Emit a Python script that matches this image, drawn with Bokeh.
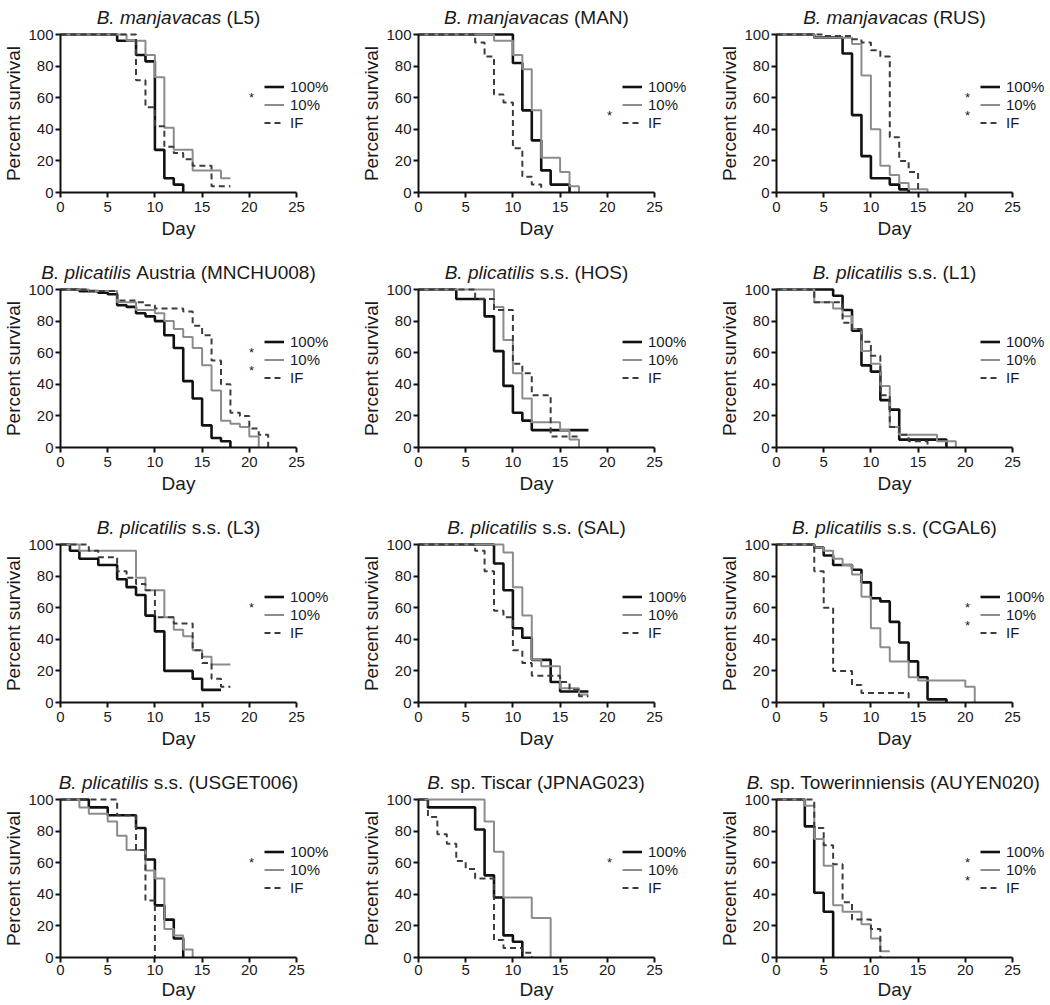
from bokeh.plotting import figure
from bokeh.layouts import gridplot
from bokeh.models import Legend, LegendItem, Label, FixedTicker, Range1d
from bokeh.embed import file_html
from bokeh.resources import INLINE

# ---------------- data ----------------
x_ticks = [0, 5, 10, 15, 20, 25]
y_ticks = [0, 20, 40, 60, 80, 100]
series_labels = ["100%", "10%", "IF"]

title_italic = ["B. manjavacas", "B. manjavacas", "B. manjavacas",
                "B. plicatilis", "B. plicatilis", "B. plicatilis",
                "B. plicatilis", "B. plicatilis", "B. plicatilis",
                "B. plicatilis", "B.", "B."]
title_roman = ["(L5)", "(MAN)", "(RUS)",
               "Austria (MNCHU008)", "s.s. (HOS)", "s.s. (L1)",
               "s.s. (L3)", "s.s. (SAL)", "s.s. (CGAL6)",
               "s.s. (USGET006)", "sp. Tiscar (JPNAG023)", "sp. Towerinniensis (AUYEN020)"]
# significance asterisks for [100%, 10%, IF]
stars = [[0, 1, 0], [0, 0, 1], [0, 1, 1],
         [0, 1, 1], [0, 0, 0], [0, 0, 0],
         [0, 1, 0], [0, 0, 0], [0, 1, 1],
         [0, 1, 0], [0, 1, 0], [0, 1, 1]]

L5_day_100 = [0, 6, 8, 9, 10, 11, 12, 13]
L5_surv_100 = [100, 96, 87, 83, 27, 9, 5, 0]
L5_day_10 = [0, 7, 9, 10, 11, 12, 14, 17, 18]
L5_surv_10 = [100, 96, 87, 73, 41, 27, 14, 9, 9]
L5_day_IF = [0, 8, 9, 10, 11, 12, 13, 14, 16, 18]
L5_surv_IF = [100, 71, 54, 42, 29, 25, 21, 17, 4, 4]

MAN_day_100 = [0, 10, 11, 12, 13, 14, 16]
MAN_surv_100 = [100, 82, 52, 33, 14, 5, 0]
MAN_day_10 = [0, 8, 10, 11, 12, 13, 15, 16, 17]
MAN_surv_10 = [100, 96, 87, 78, 52, 22, 13, 4, 0]
MAN_day_IF = [0, 6, 7, 8, 9, 10, 11, 12, 13]
MAN_surv_IF = [100, 95, 86, 62, 57, 28, 10, 5, 0]

RUS_day_100 = [0, 4, 7, 8, 9, 10, 12, 13, 14]
RUS_surv_100 = [100, 98, 88, 49, 23, 9, 5, 2, 0]
RUS_day_10 = [0, 4, 8, 9, 10, 11, 12, 13, 14, 16]
RUS_surv_10 = [100, 98, 94, 74, 40, 17, 11, 6, 2, 0]
RUS_day_IF = [0, 5, 8, 9, 10, 11, 12, 13, 14, 15]
RUS_surv_IF = [100, 99, 97, 95, 90, 86, 35, 20, 13, 0]

MNC_day_100 = [0, 2, 4, 5, 6, 7, 8, 9, 10, 11, 12, 13, 14, 15, 16, 17, 18]
MNC_surv_100 = [100, 99, 98, 97, 90, 89, 85, 83, 80, 71, 63, 42, 31, 14, 6, 4, 0]
MNC_day_10 = [0, 3, 6, 8, 10, 11, 12, 13, 14, 15, 16, 17, 18, 19, 20, 21]
MNC_surv_10 = [100, 99, 92, 87, 85, 80, 75, 70, 63, 52, 36, 17, 15, 13, 7, 0]
MNC_day_IF = [0, 3, 6, 8, 9, 10, 13, 14, 15, 16, 17, 18, 19, 20, 21, 22]
MNC_surv_IF = [100, 99, 93, 92, 90, 88, 86, 77, 71, 55, 40, 22, 20, 12, 8, 0]

HOS_day_100 = [0, 4, 7, 8, 9, 10, 11, 12, 18]
HOS_surv_100 = [100, 94, 83, 61, 39, 22, 17, 11, 11]
HOS_day_10 = [0, 8, 9, 10, 11, 12, 15, 16, 17]
HOS_surv_10 = [100, 89, 68, 47, 31, 16, 11, 5, 0]
HOS_day_IF = [0, 6, 8, 10, 11, 12, 14, 17]
HOS_surv_IF = [100, 94, 87, 53, 47, 33, 7, 7]

L1_day_100 = [0, 6, 7, 8, 9, 10, 11, 12, 13, 18]
L1_surv_100 = [100, 96, 87, 74, 52, 48, 30, 24, 5, 0]
L1_day_10 = [0, 4, 6, 7, 8, 9, 10, 11, 12, 13, 17, 19]
L1_surv_10 = [100, 92, 88, 83, 75, 61, 53, 39, 13, 8, 4, 0]
L1_day_IF = [0, 4, 7, 8, 9, 10, 11, 12, 13, 14, 16]
L1_surv_IF = [100, 92, 79, 75, 67, 58, 33, 13, 8, 4, 0]

L3_day_100 = [0, 1, 2, 4, 6, 7, 8, 9, 10, 11, 14, 15, 17]
L3_surv_100 = [100, 96, 91, 87, 78, 73, 68, 55, 45, 20, 15, 8, 8]
L3_day_10 = [0, 2, 8, 9, 11, 12, 13, 14, 15, 16, 18]
L3_surv_10 = [100, 96, 79, 71, 54, 46, 42, 33, 29, 24, 24]
L3_day_IF = [0, 3, 4, 6, 7, 8, 9, 10, 12, 14, 15, 16, 17, 18]
L3_surv_IF = [100, 96, 92, 83, 79, 75, 71, 54, 50, 33, 25, 15, 10, 10]

SAL_day_100 = [0, 8, 9, 10, 11, 12, 14, 15, 18]
SAL_surv_100 = [100, 88, 71, 47, 41, 27, 13, 7, 7]
SAL_day_10 = [0, 9, 10, 11, 12, 13, 15, 17, 18]
SAL_surv_10 = [100, 95, 73, 55, 27, 23, 9, 5, 5]
SAL_day_IF = [0, 6, 7, 8, 9, 10, 11, 12, 15, 16, 17, 18]
SAL_surv_IF = [100, 96, 83, 58, 54, 33, 25, 17, 13, 8, 4, 4]

CGA_day_100 = [0, 4, 5, 6, 8, 9, 10, 11, 12, 13, 14, 15, 16, 18]
CGA_surv_100 = [100, 98, 93, 87, 84, 76, 66, 64, 51, 38, 26, 16, 2, 0]
CGA_day_10 = [0, 4, 5, 6, 7, 8, 9, 10, 11, 12, 14, 15, 20, 21]
CGA_surv_10 = [100, 98, 96, 91, 87, 81, 67, 47, 35, 26, 16, 14, 10, 0]
CGA_day_IF = [0, 4, 5, 6, 8, 9, 14]
CGA_surv_IF = [100, 83, 60, 20, 11, 6, 0]

USG_day_100 = [0, 3, 5, 8, 9, 10, 11, 12, 13]
USG_surv_100 = [100, 95, 90, 82, 62, 33, 24, 12, 0]
USG_day_10 = [0, 2, 3, 5, 6, 7, 9, 10, 11, 12, 13, 14]
USG_surv_10 = [100, 95, 91, 86, 77, 68, 55, 50, 18, 14, 5, 0]
USG_day_IF = [0, 6, 8, 9, 10]
USG_surv_IF = [100, 90, 68, 36, 0]

JPN_day_100 = [0, 1, 6, 7, 8, 9, 10, 11]
JPN_surv_100 = [100, 95, 81, 52, 38, 14, 10, 0]
JPN_day_10 = [0, 7, 8, 9, 12, 14]
JPN_surv_10 = [100, 86, 67, 38, 25, 0]
JPN_day_IF = [0, 1, 2, 3, 4, 5, 6, 8, 9, 11, 12]
JPN_surv_IF = [100, 89, 78, 72, 61, 56, 50, 11, 6, 3, 0]

AUY_day_100 = [0, 3, 4, 5, 6]
AUY_surv_100 = [100, 83, 41, 29, 0]
AUY_day_10 = [0, 3, 4, 5, 6, 7, 9, 10, 11, 12]
AUY_surv_10 = [100, 96, 75, 58, 33, 29, 21, 12, 4, 4]
AUY_day_IF = [0, 4, 5, 6, 7, 8, 10, 11]
AUY_surv_IF = [100, 82, 71, 59, 35, 24, 18, 0]

panels = [
    [(L5_day_100, L5_surv_100), (L5_day_10, L5_surv_10), (L5_day_IF, L5_surv_IF)],
    [(MAN_day_100, MAN_surv_100), (MAN_day_10, MAN_surv_10), (MAN_day_IF, MAN_surv_IF)],
    [(RUS_day_100, RUS_surv_100), (RUS_day_10, RUS_surv_10), (RUS_day_IF, RUS_surv_IF)],
    [(MNC_day_100, MNC_surv_100), (MNC_day_10, MNC_surv_10), (MNC_day_IF, MNC_surv_IF)],
    [(HOS_day_100, HOS_surv_100), (HOS_day_10, HOS_surv_10), (HOS_day_IF, HOS_surv_IF)],
    [(L1_day_100, L1_surv_100), (L1_day_10, L1_surv_10), (L1_day_IF, L1_surv_IF)],
    [(L3_day_100, L3_surv_100), (L3_day_10, L3_surv_10), (L3_day_IF, L3_surv_IF)],
    [(SAL_day_100, SAL_surv_100), (SAL_day_10, SAL_surv_10), (SAL_day_IF, SAL_surv_IF)],
    [(CGA_day_100, CGA_surv_100), (CGA_day_10, CGA_surv_10), (CGA_day_IF, CGA_surv_IF)],
    [(USG_day_100, USG_surv_100), (USG_day_10, USG_surv_10), (USG_day_IF, USG_surv_IF)],
    [(JPN_day_100, JPN_surv_100), (JPN_day_10, JPN_surv_10), (JPN_day_IF, JPN_surv_IF)],
    [(AUY_day_100, AUY_surv_100), (AUY_day_10, AUY_surv_10), (AUY_day_IF, AUY_surv_IF)],
]

# ---------------- style / layout ----------------
FONT = "Liberation Sans"
TXT = "#1a1a1a"
styles = [dict(line_color="#111111", line_width=2.6, line_dash="solid"),
          dict(line_color="#8c8c8c", line_width=2.0, line_dash="solid"),
          dict(line_color="#3c3c3c", line_width=2.0, line_dash="6 4")]

LEFT = 60                          # px from figure left edge to the day-0 axis
col_widths = [358, 358, 334]
row_heights = [255, 255, 255, 238]
TOP0 = 192                         # px from figure top to the 0 % line
PX_PER_DAY = 9.44
PX_PER_PCT = 1.58
Y100 = 100 * PX_PER_PCT            # height of the 100 % line above the 0 % line

# Arial / Liberation Sans advance widths (1/1000 em)
AW = {" ": 278, ".": 278, "(": 333, ")": 333}
AW.update({c: 556 for c in "0123456789"})
AW.update(dict(zip("ABCDEFGHIJKLMNOPQRSTUVWXYZ",
                   [667, 667, 722, 722, 667, 611, 778, 722, 278, 500, 667, 556, 833,
                    722, 778, 667, 778, 722, 667, 611, 722, 667, 944, 667, 667, 611])))
AW.update(dict(zip("abcdefghijklmnopqrstuvwxyz",
                   [556, 556, 500, 556, 556, 278, 556, 556, 222, 222, 500, 222, 833,
                    556, 556, 556, 556, 333, 500, 278, 556, 500, 722, 500, 500, 500])))


def tw(s, fs):
    return sum(AW.get(c, 556) for c in s) * fs / 1000.0


TITLE_FS = 19
LEG_X = LEFT + 204
figs = []
for i, series in enumerate(panels):
    r_i, c_i = divmod(i, 3)
    h = row_heights[r_i]
    w = col_widths[c_i]
    below = h - TOP0               # px below the 0 % line
    last_row = r_i == len(row_heights) - 1
    p = figure(width=w, height=h, output_backend="svg", toolbar_location=None,
               x_range=Range1d(-LEFT / PX_PER_DAY, (w - LEFT) / PX_PER_DAY),
               y_range=Range1d(-below / PX_PER_PCT, TOP0 / PX_PER_PCT),
               min_border_left=0, min_border_right=0,
               min_border_top=0, min_border_bottom=0,
               background_fill_color="white", border_fill_color="white")
    p.title.visible = False
    p.outline_line_color = None
    p.xgrid.visible = False
    p.ygrid.visible = False
    for ax in (p.xaxis[0], p.yaxis[0]):
        ax.axis_line_width = 2
        ax.axis_line_color = "#111111"
        ax.major_tick_line_width = 2
        ax.major_tick_line_color = "#111111"
        ax.major_tick_in = 0
        ax.major_tick_out = 5
        ax.minor_tick_line_color = None
        ax.major_label_text_font = FONT
        ax.major_label_text_font_size = "15px"
        ax.major_label_text_color = TXT
        ax.major_label_standoff = 2
        ax.axis_label_text_font = FONT
        ax.axis_label_text_font_size = "19px"
        ax.axis_label_text_font_style = "normal"
        ax.axis_label_text_color = TXT
        ax.axis_label_standoff = 1
    p.xaxis.ticker = FixedTicker(ticks=x_ticks)
    p.xaxis.bounds = (x_ticks[0], x_ticks[-1])
    p.xaxis.axis_label = "Day"
    p.xaxis.major_label_standoff = 2 if last_row else 4
    p.xaxis.axis_label_standoff = 1 if last_row else 3
    p.xaxis.fixed_location = y_ticks[0]
    p.yaxis.ticker = FixedTicker(ticks=y_ticks)
    p.yaxis.bounds = (y_ticks[0], y_ticks[-1])
    p.yaxis.axis_label = "Percent survival"
    p.yaxis.fixed_location = x_ticks[0]

    rends = []
    for (days, surv), st in zip(series, styles):
        rends.append(p.step(days, surv, mode="after", **st))

    legend = Legend(items=[LegendItem(label=lab, renderers=[r]) for lab, r in zip(series_labels, rends)],
                    location=(LEG_X, below + Y100 - 44 - 8.5 - 36 - 8.5), orientation="vertical",
                    border_line_color=None, background_fill_alpha=0,
                    padding=0, margin=0, spacing=1,
                    glyph_width=20, glyph_height=17, label_height=17, label_standoff=6,
                    label_text_font=FONT, label_text_font_size="15px",
                    label_text_color=TXT, label_text_baseline="middle")
    p.add_layout(legend)

    for k, s in enumerate(stars[i]):
        if s:
            p.add_layout(Label(x=LEG_X - 13, y=below + Y100 - 44 - 18 * k - 1,
                               x_units="screen", y_units="screen",
                               text="*", text_align="center", text_baseline="middle",
                               text_font=FONT, text_font_size="13px", text_color=TXT))

    it, ro = title_italic[i], title_roman[i]
    wi = tw(it, TITLE_FS) + tw(" ", TITLE_FS)
    wr = tw(ro, TITLE_FS)
    x0 = -(wi + wr) / 2.0
    xc = (x_ticks[0] + x_ticks[-1]) / 2.0
    for txt, off, style in ((it, x0, "italic"), (ro, x0 + wi, "normal")):
        p.add_layout(Label(x=xc, y=below + Y100 + 17, x_units="data", y_units="screen", text=txt,
                           x_offset=off, text_align="left", text_baseline="alphabetic",
                           text_font=FONT, text_font_style=style,
                           text_font_size=f"{TITLE_FS}px", text_color=TXT))
    figs.append(p)

grid = gridplot(figs, ncols=3, toolbar_location=None)
open("out.html", "w").write(file_html(grid, INLINE))
